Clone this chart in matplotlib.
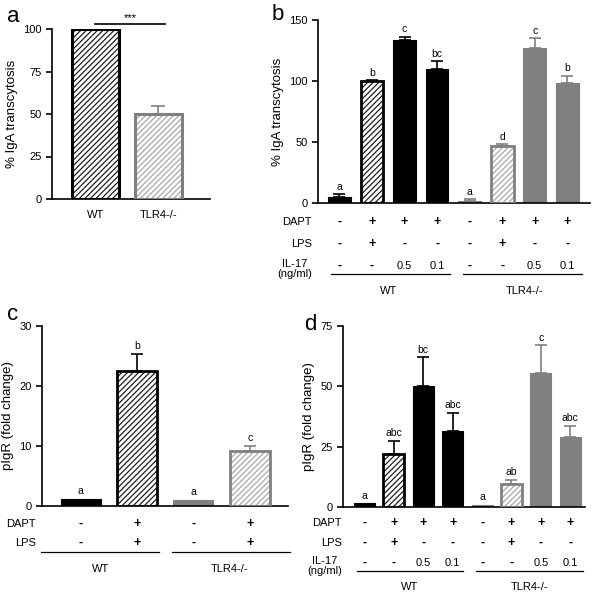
import matplotlib
matplotlib.use("Agg")
import matplotlib.pyplot as plt
import matplotlib.transforms as mtransforms

plt.rcParams['font.family'] = ['Liberation Sans', 'DejaVu Sans']
plt.rcParams['hatch.linewidth'] = 0.9

W, H = 600, 598
BLACK = "#000000"
GRAY = "#808080"

# panel a
a_groups = ["WT", "TLR4-/-"]
a_vals = [100, 50]
a_err = [0, 4.5]

# panel b
b_vals = [5, 100, 134, 110, 2, 47, 127, 98]
b_err = [2, 0.5, 2, 6, 1, 1, 8, 6]
b_letters = ["a", "b", "c", "bc", "a", "d", "c", "b"]
b_dapt = ["-", "+", "+", "+", "-", "+", "+", "+"]
b_lps = ["-", "+", "-", "-", "-", "+", "-", "-"]
b_il17 = ["-", "-", "0.5", "0.1", "-", "-", "0.5", "0.1"]

# panel c
c_vals = [1.2, 22.5, 1.0, 9.1]
c_err = [0, 2.9, 0, 0.9]
c_letters = ["a", "b", "a", "c"]
c_dapt = ["-", "+", "-", "+"]
c_lps = ["-", "+", "-", "+"]

# panel d
d_vals = [1.5, 22, 50, 31.5, 1, 9.5, 55.5, 29]
d_err = [0, 5.5, 12, 7.5, 0, 1.8, 11.5, 4.5]
d_letters = ["a", "abc", "bc", "abc", "a", "ab", "c", "abc"]
d_dapt = b_dapt
d_lps = b_lps
d_il17 = b_il17

# styles: (face, edge, hatch colour / None)
STY = {
    "wt_solid": (BLACK, BLACK, None),
    "wt_hatch": ("white", BLACK, "#202020"),
    "ko_solid": (GRAY, GRAY, None),
    "ko_hatch": ("white", GRAY, "#a8a8a8"),
}
b_styles = ["wt_solid", "wt_hatch", "wt_solid", "wt_solid",
            "ko_solid", "ko_hatch", "ko_solid", "ko_solid"]
c_styles = ["wt_solid", "wt_hatch", "ko_solid", "ko_hatch"]

fig = plt.figure(figsize=(W / 100, H / 100), dpi=100)


def fy(y):
    return 1 - y / H


def make_ax(left, right, top, bottom):
    ax = fig.add_axes([left / W, fy(bottom), (right - left) / W, (bottom - top) / H])
    for s in ["top", "right"]:
        ax.spines[s].set_visible(False)
    for s in ["left", "bottom"]:
        ax.spines[s].set_linewidth(1.2)
    ax.tick_params(axis="y", labelsize=8, width=1.2, length=4)
    ax.tick_params(axis="x", length=0)
    return ax


def one_bar(ax, x, v, e, s, width, lw, capsize=4):
    fc, ec, hc = STY[s]
    if hc:
        # hatch drawn in its own colour, outline on top
        ax.bar(x, v, width=width, color=fc, edgecolor=hc, hatch="//////",
               linewidth=0, zorder=2)
        ax.bar(x, v, width=width, fill=False, edgecolor=ec, linewidth=lw, zorder=3)
    else:
        ax.bar(x, v, width=width, color=fc, edgecolor=ec, linewidth=0.8, zorder=2)
    if e > 0:
        ax.errorbar(x, v, yerr=[[0], [e]], fmt="none", ecolor=ec,
                    elinewidth=1.2, capsize=capsize, capthick=1.2, zorder=1)


def draw_bars(ax, vals, errs, styles, width=0.71, lw=2.0):
    for x, (v, e, s) in enumerate(zip(vals, errs, styles)):
        one_bar(ax, x, v, e, s, width, lw)


def add_letters(ax, vals, errs, letters):
    for x, (v, e, l) in enumerate(zip(vals, errs, letters)):
        ax.annotate(l, (x, v + e), xytext=(0, 2), textcoords="offset points",
                    ha="center", va="bottom", fontsize=7.5)


def add_table(ax, rows, ys, label_x, groups):
    tr = mtransforms.blended_transform_factory(ax.transData, fig.transFigure)
    for (lab, vals), y in zip(rows, ys):
        if "\n" in lab:
            fig.text(label_x / W, fy(y - 7), lab, ha="right", va="top",
                     fontsize=8, multialignment="center", linespacing=1.05)
        else:
            fig.text(label_x / W, fy(y), lab, ha="right", va="center", fontsize=8)
        for i, v in enumerate(vals):
            sym = v in "+-"
            ax.text(i, fy(y), v, transform=tr, ha="center", va="center",
                    fontsize=9 if sym else 8, fontweight="bold" if sym else "normal")
    for (x0, x1, yl, name, xt, yt) in groups:
        ax.plot([x0, x1], [fy(yl), fy(yl)], color="black", lw=0.9,
                transform=tr, clip_on=False)
        ax.text(xt, fy(yt), name, transform=tr, ha="center", va="center", fontsize=8)


# ---- panel a
ax = make_ax(52, 210, 29, 199)
for x, (v, e, s) in enumerate(zip(a_vals, a_err, ["wt_hatch", "ko_hatch"])):
    one_bar(ax, x, v, e, s, 0.74, 2.2, capsize=5)
ax.set_xlim(-0.69, 1.82)
ax.set_ylim(0, 100)
ax.set_yticks([0, 25, 50, 75, 100])
ax.set_xticks([0, 1])
ax.set_xticklabels(a_groups, fontsize=8)
ax.tick_params(axis="x", pad=8)
ax.set_ylabel("% IgA transcytosis", fontsize=9.5)
ax.plot([0, 1.1], [103, 103], color="black", lw=1.2, clip_on=False)
ax.text(0.55, 103.5, "***", ha="center", va="bottom", fontsize=8)
fig.text(13 / W, fy(16), "a", fontsize=16, ha="center", va="center")

# ---- panel b
ax = make_ax(318, 590, 20, 203)
draw_bars(ax, b_vals, b_err, b_styles, width=0.7)
add_letters(ax, b_vals, b_err, b_letters)
ax.set_xlim(-0.66, 7.7)
ax.set_ylim(0, 150)
ax.set_yticks([0, 50, 100, 150])
ax.set_xticks([])
ax.set_ylabel("% IgA transcytosis", fontsize=9.5)
add_table(ax, [("DAPT", b_dapt), ("LPS", b_lps), ("IL-17\n(ng/ml)", b_il17)],
          [222, 244, 266], 312,
          [(-0.26, 3.4, 274, "WT", 1.5, 291), (3.8, 7.46, 274, "TLR4-/-", 5.7, 291)])
fig.text(278 / W, fy(15), "b", fontsize=16, ha="center", va="center")

# ---- panel c
ax = make_ax(42, 288, 326, 506)
draw_bars(ax, c_vals, c_err, c_styles, width=0.71)
add_letters(ax, c_vals, c_err, c_letters)
ax.set_xlim(-0.69, 3.68)
ax.set_ylim(0, 30)
ax.set_yticks([0, 10, 20, 30])
ax.set_xticks([])
ax.set_ylabel("pIgR (fold change)", fontsize=9.5)
add_table(ax, [("DAPT", c_dapt), ("LPS", c_lps)], [524, 543], 36,
          [(-0.71, 1.39, 552, "WT", 0.35, 569), (1.62, 3.71, 552, "TLR4-/-", 2.65, 569)])
fig.text(13 / W, fy(315), "c", fontsize=16, ha="center", va="center")

# ---- panel d
ax = make_ax(343, 585, 326, 507)
draw_bars(ax, d_vals, d_err, b_styles, width=0.71)
add_letters(ax, d_vals, d_err, d_letters)
ax.set_xlim(-0.73, 7.5)
ax.set_ylim(0, 75)
ax.set_yticks([0, 25, 50, 75])
ax.set_xticks([])
ax.set_ylabel("pIgR (fold change)", fontsize=9.5)
add_table(ax, [("DAPT", d_dapt), ("LPS", d_lps), ("IL-17\n(ng/ml)", d_il17)],
          [523, 543, 563], 342,
          [(-0.26, 3.35, 571, "WT", 1.55, 587), (3.79, 7.43, 571, "TLR4-/-", 5.6, 587)])
fig.text(310 / W, fy(325), "d", fontsize=16, ha="center", va="center")

fig.savefig("out.png", dpi=100)
